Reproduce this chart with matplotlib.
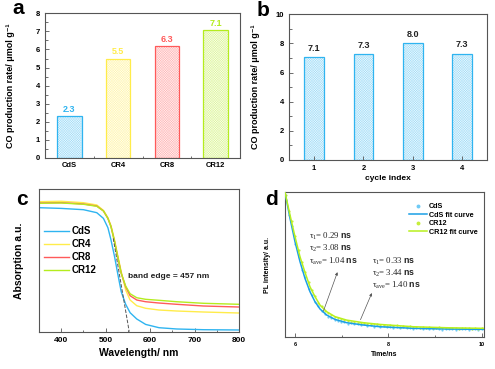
import matplotlib
matplotlib.use("Agg")
import matplotlib.pyplot as plt
from matplotlib.lines import Line2D
from matplotlib.colors import to_rgb

plt.rcParams['font.family'] = ['Liberation Sans', 'DejaVu Sans']
plt.rcParams['mathtext.fontset'] = 'custom'
plt.rcParams['mathtext.rm'] = 'Liberation Serif'
plt.rcParams['mathtext.it'] = 'Liberation Serif'
plt.rcParams['mathtext.bf'] = 'Liberation Sans:bold'
plt.rcParams['hatch.linewidth'] = 0.3

# ---- data ----
samples = ["CdS", "CR4", "CR8", "CR12"]
rate = [2.3, 5.5, 6.2, 7.05]
rate_labels = ["2.3", "5.5", "6.3", "7.1"]

cycles = [1, 2, 3, 4]
cycle_rate = [7.05, 7.25, 8.0, 7.3]
cycle_labels = ["7.1", "7.3", "8.0", "7.3"]

wavelength = [350, 400, 450, 480, 495, 505, 512, 520, 527, 535, 545, 555,
              570, 590, 620, 660, 720, 800]
abs_cds = [0.869, 0.864, 0.855, 0.834, 0.794, 0.729, 0.643, 0.526, 0.409,
           0.280, 0.192, 0.133, 0.089, 0.051, 0.028, 0.019, 0.014, 0.012]
abs_cr4 = [0.911, 0.914, 0.904, 0.888, 0.850, 0.799, 0.743, 0.643, 0.537,
           0.421, 0.292, 0.222, 0.182, 0.164, 0.152, 0.145, 0.138, 0.131]
abs_cr8 = [0.902, 0.904, 0.895, 0.881, 0.846, 0.794, 0.736, 0.631, 0.526,
           0.409, 0.315, 0.252, 0.222, 0.210, 0.201, 0.192, 0.180, 0.173]
abs_cr12 = [0.900, 0.902, 0.893, 0.879, 0.846, 0.794, 0.736, 0.631, 0.526,
            0.409, 0.320, 0.266, 0.238, 0.227, 0.220, 0.210, 0.199, 0.192]
edge_x = [517, 553]
edge_y = [0.654, 0.0]

fit_t = [5.786, 5.893, 6.0, 6.107, 6.214, 6.321, 6.429, 6.536, 6.679, 6.857,
         7.107, 7.464, 7.821, 8.536, 9.25, 10.05]
fit_cds = [1.0, 0.820, 0.658, 0.520, 0.404, 0.312, 0.242, 0.192, 0.150,
           0.120, 0.097, 0.081, 0.069, 0.058, 0.053, 0.051]
fit_cr12 = [1.0, 0.843, 0.693, 0.554, 0.446, 0.346, 0.277, 0.219, 0.173,
            0.139, 0.115, 0.097, 0.085, 0.069, 0.062, 0.058]

pl_t = [5.80, 5.87, 5.94, 6.01, 6.08, 6.15, 6.22, 6.29, 6.36, 6.43, 6.50,
        6.57, 6.64, 6.71, 6.78, 6.85, 6.92, 6.99, 7.06, 7.13, 7.20, 7.27,
        7.34, 7.41, 7.48, 7.55, 7.62, 7.69, 7.76, 7.83, 7.90, 7.97, 8.04,
        8.11, 8.18, 8.25, 8.32, 8.39, 8.46, 8.53, 8.60, 8.67, 8.74, 8.81,
        8.88, 8.95, 9.02, 9.09, 9.16, 9.23, 9.30, 9.37, 9.44, 9.51, 9.58,
        9.65, 9.72, 9.79, 9.86, 9.93, 10.00]
pl_cds = [0.95, 0.84, 0.77, 0.64, 0.55, 0.46, 0.41, 0.33, 0.29, 0.24, 0.21,
          0.175, 0.16, 0.135, 0.13, 0.115, 0.11, 0.10, 0.105, 0.09, 0.095,
          0.085, 0.09, 0.08, 0.085, 0.075, 0.08, 0.07, 0.078, 0.068, 0.072,
          0.065, 0.07, 0.062, 0.068, 0.06, 0.065, 0.058, 0.063, 0.055, 0.06,
          0.057, 0.052, 0.06, 0.055, 0.05, 0.058, 0.053, 0.049, 0.056, 0.051,
          0.054, 0.048, 0.055, 0.05, 0.053, 0.047, 0.054, 0.05, 0.048, 0.052]
pl_cr12 = [0.98, 0.87, 0.80, 0.70, 0.60, 0.52, 0.45, 0.38, 0.32, 0.28, 0.23,
           0.21, 0.18, 0.165, 0.15, 0.135, 0.13, 0.12, 0.115, 0.11, 0.105,
           0.10, 0.098, 0.092, 0.095, 0.088, 0.09, 0.085, 0.088, 0.08, 0.083,
           0.076, 0.08, 0.072, 0.078, 0.07, 0.074, 0.066, 0.072, 0.064, 0.07,
           0.063, 0.066, 0.06, 0.068, 0.062, 0.058, 0.065, 0.06, 0.057, 0.063,
           0.058, 0.061, 0.056, 0.062, 0.057, 0.06, 0.055, 0.059, 0.056, 0.058]

c_blue = '#2fb4f0'
c_yellow = '#ffec4a'
c_red = '#ff5a5a'
c_green = '#b4ec1e'
bar_colors = [c_blue, c_yellow, c_red, c_green]
spine_c = '#555555'

W, H = 495, 369
fig = plt.figure(figsize=(W / 100, H / 100), dpi=100)


def px_axes(left, top, right, bottom):
    return fig.add_axes([left / W, 1 - bottom / H, (right - left) / W, (bottom - top) / H])


def tint(c, f):
    r, g, b = to_rgb(c)
    return (1 - f * (1 - r), 1 - f * (1 - g), 1 - f * (1 - b))


def style(ax):
    for s in ax.spines.values():
        s.set_color(spine_c)
        s.set_linewidth(0.8)
    ax.tick_params(which='both', direction='in', color=spine_c, width=0.6)
    ax.tick_params(which='major', length=3)
    ax.tick_params(which='minor', length=1.8)


def hatched_bar(ax, x, h, w, c):
    ax.bar(x, h, width=w, facecolor=tint(c, 0.08), edgecolor=tint(c, 0.45),
           hatch='xxxxxxxxxxxxxx', linewidth=0)
    ax.bar(x, h, width=w, facecolor='none', edgecolor=c, linewidth=0.9)


# ---- a ----
ax1 = px_axes(45, 13.3, 240, 158)
style(ax1)
for i, (v, c) in enumerate(zip(rate, bar_colors)):
    hatched_bar(ax1, i + 1, v, 0.5, c)
    ax1.text(i + 1, v + 0.12, rate_labels[i], color=c, ha='center', va='bottom',
             fontsize=6.5, fontweight='bold')
ax1.set_xlim(0.5, 4.5)
ax1.set_ylim(0, 8)
ax1.set_xticks([1, 2, 3, 4])
ax1.set_xticklabels(samples)
ax1.set_xticks([1.5, 2.5, 3.5], minor=True)
ax1.set_yticks(range(0, 9))
ax1.set_yticks([x + 0.5 for x in range(8)], minor=True)
ax1.tick_params(axis='x', which='major', length=0, pad=3)
ax1.tick_params(labelsize=5.5)
for lab in ax1.get_xticklabels() + ax1.get_yticklabels():
    lab.set_fontweight('bold')
ax1.set_ylabel("CO production rate/ μmol g⁻¹", fontsize=6.5, fontweight='bold')
ax1.yaxis.set_label_coords(-0.155, 0.5)
fig.text(18 / W, 1 - 9 / H, 'a', fontsize=15, fontweight='bold', ha='center', va='center')

# ---- b ----
ax2 = px_axes(289.3, 14.3, 487, 160)
style(ax2)
for x, v in zip(cycles, cycle_rate):
    hatched_bar(ax2, x, v, 0.4, c_blue)
for x, v, s in zip(cycles, cycle_rate, cycle_labels):
    ax2.text(x, v + 0.3, s, ha='center', va='bottom', fontsize=6.5, fontweight='bold', color='#222222')
ax2.set_xlim(0.5, 4.5)
ax2.set_ylim(0, 10)
ax2.set_xticks(cycles)
ax2.set_yticks(range(0, 11, 2))
ax2.set_yticks(range(1, 10, 2), minor=True)
ax2.tick_params(labelsize=5.5)
for lab in ax2.get_xticklabels() + ax2.get_yticklabels():
    lab.set_fontweight('bold')
ax2.set_xlabel("cycle index", fontsize=6, fontweight='bold', labelpad=2)
ax2.set_ylabel("CO production rate/ μmol g⁻¹", fontsize=6.5, fontweight='bold')
ax2.yaxis.set_label_coords(-0.148, 0.5)
fig.text(263 / W, 1 - 11 / H, 'b', fontsize=15, fontweight='bold', ha='center', va='center')

# ---- c ----
ax3 = px_axes(39, 189, 239, 331.7)
style(ax3)
ax3.plot(wavelength, abs_cds, color=c_blue, lw=1, label='CdS')
ax3.plot(wavelength, abs_cr4, color=c_yellow, lw=1, label='CR4')
ax3.plot(wavelength, abs_cr8, color=c_red, lw=1, label='CR8')
ax3.plot(wavelength, abs_cr12, color=c_green, lw=1, label='CR12')
ax3.plot(edge_x, edge_y, color='#555555', lw=0.7, ls='--')
ax3.text(550, 0.39, 'band edge = 457 nm', fontsize=6, fontweight='bold', color='#222222',
         va='center')
ax3.set_xlim(350, 800)
ax3.set_ylim(0, 1)
ax3.set_xticks(range(400, 801, 100))
ax3.set_xticks(range(450, 800, 100), minor=True)
ax3.set_yticks([])
ax3.tick_params(labelsize=6)
for lab in ax3.get_xticklabels():
    lab.set_fontweight('bold')
ax3.set_xlabel("Wavelength/ nm", fontsize=7.5, fontweight='bold', labelpad=3)
ax3.set_ylabel("Absorption a.u.", fontsize=7.5, fontweight='bold')
ax3.yaxis.set_label_coords(-0.075, 0.5)
leg = ax3.legend(loc='upper left', bbox_to_anchor=(-0.02, 0.8), frameon=False, fontsize=7,
                 handlelength=2.6, handletextpad=0.3, labelspacing=0.3)
for t in leg.get_texts():
    t.set_fontweight('bold')
fig.text(22 / W, 1 - 199 / H, 'c', fontsize=15, fontweight='bold', ha='center', va='center')

# ---- d ----
ax4 = px_axes(285, 192.3, 484, 336.7)
style(ax4)
ax4.scatter(pl_t, pl_cds, s=2.5, color='#6fcaf5', lw=0, zorder=2)
ax4.scatter(pl_t, pl_cr12, s=2.5, color='#c6ee3c', lw=0, zorder=2)
ax4.plot(fit_t, fit_cds, color='#1a9fe6', lw=1.1, zorder=3)
ax4.plot(fit_t, fit_cr12, color='#b8f01e', lw=1.1, zorder=3)
ax4.set_xlim(5.786, 10.05)
ax4.set_ylim(0, 1)
ax4.set_xticks([6, 8, 10])
ax4.set_xticks([7, 9], minor=True)
ax4.set_yticks([])
ax4.tick_params(labelsize=4)
for lab in ax4.get_xticklabels():
    lab.set_fontweight('bold')
ax4.set_xlabel("Time/ns", fontsize=5, fontweight='bold', labelpad=3)
ax4.set_ylabel("PL intensity/ a.u.", fontsize=5, fontweight='bold')
ax4.yaxis.set_label_coords(-0.07, 0.5)

handles = [Line2D([], [], ls='', marker='o', ms=1.8, color='#6fcaf5'),
           Line2D([], [], color='#1a9fe6', lw=1.1),
           Line2D([], [], ls='', marker='o', ms=1.8, color='#c6ee3c'),
           Line2D([], [], color='#b8f01e', lw=1.1)]
leg4 = ax4.legend(handles, ['CdS', 'CdS fit curve', 'CR12', 'CR12 fit curve'],
                  loc='upper right', bbox_to_anchor=(1.0, 0.97), frameon=False, fontsize=5.2,
                  handlelength=2.4, handletextpad=0.3, labelspacing=0.2)
for t in leg4.get_texts():
    t.set_fontweight('bold')


def tau_block(x, ys, vals):
    subs = ['1', '2', r'{\rm ave}']
    for y, sub, v in zip(ys, subs, vals):
        ax4.text(x, y, r'$\tau_%s$= %s $\mathbf{ns}$' % (sub, v), fontsize=6.3,
                 family='Liberation Serif', va='baseline', color='#222222')


tau_block(6.30, [0.68, 0.595, 0.505], ['0.29', '3.08', '1.04'])
tau_block(7.66, [0.505, 0.42, 0.34], ['0.33', '3.44', '1.40'])
ax4.annotate('', xy=(6.93, 0.465), xytext=(6.59, 0.16),
             arrowprops=dict(arrowstyle='-|>', color='#555555', lw=0.5, mutation_scale=4))
ax4.annotate('', xy=(7.67, 0.32), xytext=(7.38, 0.10),
             arrowprops=dict(arrowstyle='-|>', color='#555555', lw=0.5, mutation_scale=4))
fig.text(272 / W, 1 - 200 / H, 'd', fontsize=15, fontweight='bold', ha='center', va='center')

fig.savefig('out.png', dpi=100)
